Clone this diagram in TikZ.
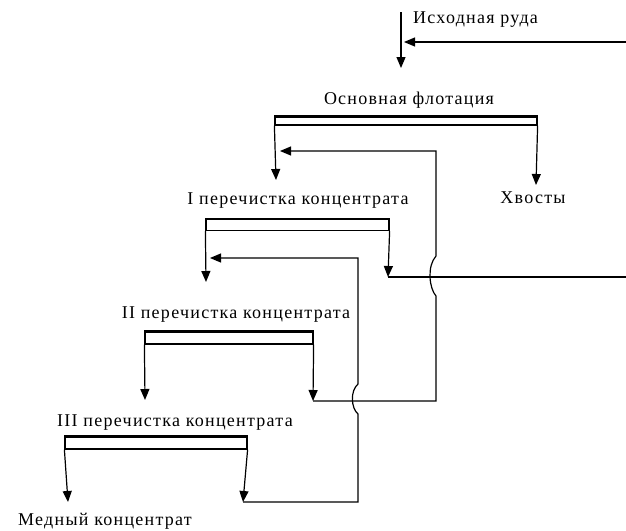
\documentclass[tikz,border=0pt]{standalone}
\usepackage{fontspec}
\setmainfont{Liberation Serif}[LetterSpace=7]
\usetikzlibrary{arrows.meta, positioning}

\begin{document}
\begin{tikzpicture}[
  x=1pt, y=-1pt,
  bar/.style={rectangle, draw, line width=1.2pt, inner sep=0pt, minimum height=11pt},
  lbl/.style={font=\fontsize{18}{20}\selectfont, inner sep=0pt},
  flow/.style={line width=1.2pt, -{Triangle[length=11pt, width=9pt]}},
  line/.style={line width=1.2pt},
]
\useasboundingbox (0,0) rectangle (626,530);

% ---- аппараты ----
\node[bar, minimum width=262pt, minimum height=8pt] (osnova) at (406,121) {};
\node[bar, minimum width=183pt] (chist1) at (297.5,225) {};
\node[bar, minimum width=168pt, minimum height=12pt] (chist2) at (229,338) {};
\node[bar, minimum width=182pt, minimum height=12pt] (chist3) at (156,443) {};

\draw[line width=2.5pt] (osnova.north west) -- (osnova.north east);
\draw[line width=2.5pt] (chist1.north west) -- (chist1.north east);
\draw[line width=2.5pt] (chist2.north west) -- (chist2.north east);
\draw[line width=2.5pt] (chist3.north west) -- (chist3.north east);

% ---- подписи ----
\node[lbl] (osnovaL) at (409,100) {Основная флотация};
\node[lbl] (chist1L) at (298,201) {I перечистка концентрата};
\node[lbl] (chist2L) at (236,315) {II перечистка концентрата};
\node[lbl] (chist3L) at (175,423) {III перечистка концентрата};
\node[lbl, anchor=west] (ruda) at (413,20) {Исходная руда};
\node[lbl] (hvosty) at (533,198) {Хвосты};
\node[lbl] (medn) at (105,521) {Медный концентрат};

% ---- точки ----
\coordinate (rudaTop) at (401,12);
\coordinate (rudaIn) at (401,68);
\coordinate (rudaR) at (626,42);
\coordinate (rudaTip) at (404,42);
\coordinate (osnK) at (276,180);
\coordinate (osnH) at (536,185);
\coordinate (ch1K) at (206,282);
\coordinate (ch1H) at (388,277);
\coordinate (ch1R) at (626,277);
\coordinate (ch2K) at (145,400);
\coordinate (ch2H) at (313,401);
\coordinate (ch3K) at (68,502);
\coordinate (ch3H) at (243,502);
\coordinate (back1) at (280,151);
\coordinate (back2) at (210,258);

% ---- потоки ----
\draw[flow] (rudaTop) -- (rudaIn);
\draw[flow] (rudaR) -- (rudaTip);
\draw[flow] (osnova.south west) -- (osnK);
\draw[flow] (osnova.south east) -- (osnH);
\draw[flow] (chist1.south west) -- (ch1K);
\draw[flow] (chist1.south east) -- (ch1H);
\draw[line] (ch1H) -- (ch1R);
\draw[flow] (chist2.south west) -- (ch2K);
\draw[flow] (chist2.south east) -- (ch2H);
\draw[flow] (chist3.south west) -- (ch3K);
\draw[flow] (chist3.south east) -- (ch3H);

% хвосты II перечистки -> I перечистка (с обходом)
\draw[flow] (ch2H) -- (436,401) -- (436,296)
  .. controls (429,288) and (427,266) .. (436,256)
  -- (436,151) -- (back1);
% хвосты III перечистки -> II перечистка (с обходом)
\draw[flow] (ch3H) -- (358,502) -- (358,414)
  .. controls (351,408) and (350,391) .. (358,384)
  -- (358,258) -- (back2);

\end{tikzpicture}
\end{document}
